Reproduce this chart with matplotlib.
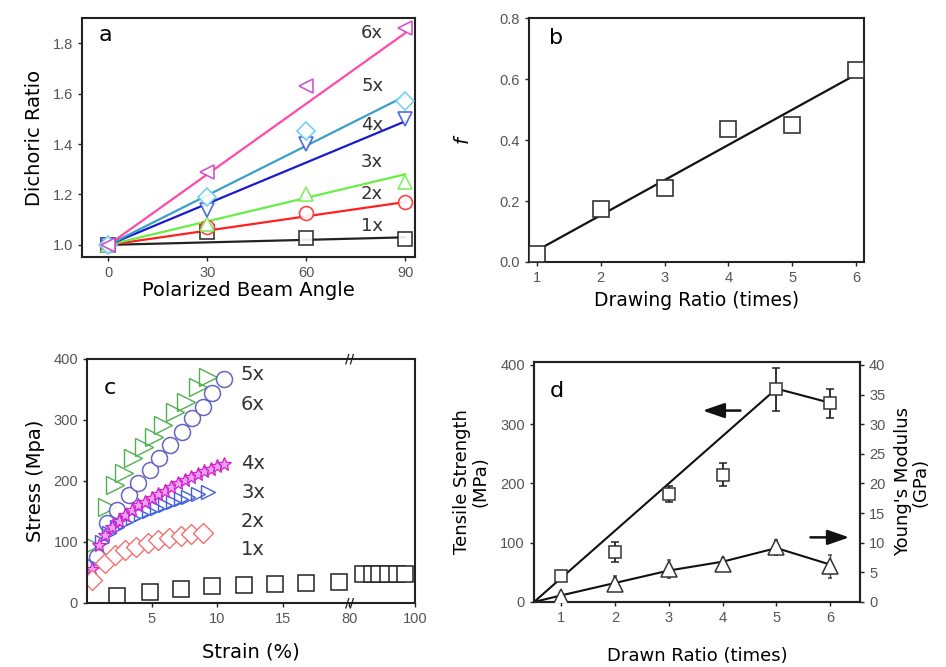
import numpy as np
import matplotlib

matplotlib.use("Agg")
import matplotlib.pyplot as plt
import matplotlib.transforms as mtransforms

# ---- panel a: dichoric ratio vs polarized beam angle ----
a_angles = [0, 30, 60, 90]
a_labels = ["1x", "2x", "3x", "4x", "5x", "6x"]
a_ratio = [
    [1.0, 1.05, 1.027, 1.025],
    [1.0, 1.07, 1.125, 1.17],
    [1.0, 1.083, 1.20, 1.25],
    [1.0, 1.14, 1.40, 1.50],
    [1.0, 1.19, 1.45, 1.57],
    [1.0, 1.29, 1.63, 1.86],
]
a_fit_end = [1.03, 1.17, 1.28, 1.49, 1.59, 1.84]
a_label_y = [1.075, 1.20, 1.33, 1.475, 1.63, 1.84]

# ---- panel b: orientation factor vs drawing ratio ----
b_ratio = [1, 2, 3, 4, 5, 6]
b_f = [0.027, 0.173, 0.243, 0.436, 0.449, 0.63]

# ---- panel c: stress-strain curves ----
c_1x_strain = [2.4, 4.85, 7.2, 9.6, 12.0, 14.4, 16.7, 19.2, 84.2, 86.8, 89.2, 91.9, 94.5, 96.9]
c_1x_stress = [11, 18, 23, 27, 29, 31, 33, 34, 47, 47, 47, 47, 47, 47]
c_2x_strain = [0.5, 1.5, 2.25, 3.0, 3.8, 4.7, 5.5, 6.3, 7.2, 8.0, 8.9]
c_2x_stress = [38, 65, 79, 87, 92, 98, 103, 106, 110, 113, 115]
c_3x_strain = [0.6, 1.2, 1.8, 2.4, 3.0, 3.6, 4.2, 4.8, 5.4, 6.0, 6.6, 7.2, 7.8, 8.5, 9.3]
c_3x_stress = [60, 100, 115, 125, 133, 140, 146, 151, 156, 161, 165, 170, 174, 178, 182]
c_4x_strain = [0.5, 1.0, 1.5, 2.0, 2.5, 3.0, 3.5, 4.0, 4.5, 5.0, 5.5, 6.0, 6.5, 7.0,
               7.5, 8.0, 8.5, 9.0, 9.5, 10.0, 10.5]
c_4x_stress = [55, 95, 112, 125, 135, 145, 152, 160, 166, 172, 178, 184, 190, 196,
               201, 206, 211, 216, 220, 224, 228]
c_5x_strain = [0.4, 1.6, 2.25, 2.9, 3.6, 4.4, 5.2, 5.9, 6.8, 7.6, 8.5, 9.3]
c_5x_stress = [95, 158, 193, 213, 237, 256, 272, 292, 313, 330, 354, 371]
c_6x_strain = [0.85, 1.6, 2.4, 3.25, 4.0, 4.85, 5.6, 6.4, 7.3, 8.1, 8.9, 9.6, 10.5]
c_6x_stress = [76, 131, 152, 177, 196, 218, 238, 259, 281, 303, 321, 344, 367]
c_label_y = [374, 326, 229, 181, 133, 87]
c_label_txt = ["5x", "6x", "4x", "3x", "2x", "1x"]

# ---- panel d: tensile strength and Young's modulus ----
d_ratio = [1, 2, 3, 4, 5, 6]
d_strength = [43, 84, 182, 215, 359, 335]
d_strength_err = [5, 17, 14, 19, 36, 24]
d_strength_line_x = [0.5, 5, 6]
d_strength_line_y = [0, 360, 336]
d_modulus = [0.9, 3.1, 5.6, 6.4, 9.2, 6.0]
d_modulus_err = [0.5, 1.2, 1.5, 1.0, 1.2, 2.0]
d_modulus_line_x = [0.5, 1, 2, 3, 4, 5, 6]
d_modulus_line_y = [0, 1.1, 3.2, 5.3, 6.8, 9.1, 6.3]

TICK_COLOR = "#555555"
LABEL_FONT = "DejaVu Sans"
TICK_FONT = "Liberation Sans"
ARROW = dict(arrowstyle="-|>,head_length=1.1,head_width=0.38", color="#111111",
             lw=1.8, mutation_scale=12, shrinkA=0, shrinkB=0)


def style_axes(ax):
    for spine in ax.spines.values():
        spine.set_linewidth(1.5)
        spine.set_color("#222222")
    ax.tick_params(direction="out", length=3, width=1, colors="#222222",
                   labelcolor=TICK_COLOR, labelsize=10.5)
    for lab in ax.get_xticklabels() + ax.get_yticklabels():
        lab.set_family(TICK_FONT)


def panel_a(ax):
    line_colors = ["#222222", "#ff2020", "#66ee44", "#1a1acc", "#3aa0c8", "#ff4aa8"]
    mark_colors = ["#222222", "#ff3030", "#77ee55", "#3a5adf", "#66ccee", "#cc44cc"]
    markers = ["s", "o", "^", "v", "D", "<"]
    sizes = [10, 10, 10, 10, 9, 10]
    for i in range(len(a_labels)):
        ax.plot([a_angles[0], a_angles[-1]], [a_ratio[i][0], a_fit_end[i]],
                color=line_colors[i], lw=1.6, zorder=2)
        ax.plot(a_angles, a_ratio[i], ls="none", marker=markers[i], ms=sizes[i],
                mfc="white", mec=mark_colors[i], mew=1.2, zorder=3, alpha=0.9)
        ax.text(80, a_label_y[i], a_labels[i], fontsize=13, color="#333333",
                family=LABEL_FONT, ha="center", va="center")
    ax.set_xlim(-8, 93)
    ax.set_ylim(0.952, 1.9)
    ax.set_xticks([0, 30, 60, 90])
    ax.set_yticks([1.0, 1.2, 1.4, 1.6, 1.8])
    ax.set_yticklabels(["1.0", "1.2", "1.4", "1.6", "1.8"])
    ax.set_xlabel("Polarized Beam Angle", fontsize=14, family=LABEL_FONT, labelpad=1)
    ax.set_ylabel("Dichoric Ratio", fontsize=14, family=LABEL_FONT, labelpad=6)
    ax.text(0.07, 0.93, "a", transform=ax.transAxes, fontsize=16,
            family=LABEL_FONT, va="center", ha="center")
    style_axes(ax)


def panel_b(ax):
    slope, intercept = np.polyfit(b_ratio, b_f, 1)
    fit_x = np.array([b_ratio[0], b_ratio[-1]])
    ax.plot(fit_x, slope * fit_x + intercept, color="#111111", lw=1.6, zorder=2)
    ax.plot(b_ratio, b_f, ls="none", marker="s", ms=11, mfc="white", mec="#333333",
            mew=1.2, zorder=3)
    ax.set_xlim(0.875, 6.125)
    ax.set_ylim(0, 0.8)
    ax.set_xticks(b_ratio)
    ax.set_yticks([0.0, 0.2, 0.4, 0.6, 0.8])
    ax.set_yticklabels(["0.0", "0.2", "0.4", "0.6", "0.8"])
    ax.set_xlabel("Drawing Ratio (times)", fontsize=13.5, family=LABEL_FONT, labelpad=4)
    ax.set_ylabel("f", fontsize=14, style="italic", family=LABEL_FONT, labelpad=20)
    ax.text(0.08, 0.92, "b", transform=ax.transAxes, fontsize=16,
            family=LABEL_FONT, va="center", ha="center")
    style_axes(ax)


def brk_forward(x):
    x = np.asarray(x, dtype=float)
    return np.where(x <= 20, x, np.where(x >= 80, 20 + (x - 80) / 4, 20))


def brk_inverse(p):
    p = np.asarray(p, dtype=float)
    return np.where(p <= 20, p, 80 + (p - 20) * 4)


def panel_c(ax):
    ax.set_xscale("function", functions=(brk_forward, brk_inverse))
    ax.plot(c_5x_strain, c_5x_stress, ls="none", marker=">", ms=13, mfc="none",
            mec="#50b050", mew=1.0)
    ax.plot(c_6x_strain, c_6x_stress, ls="none", marker="o", ms=11.5, mfc="white",
            mec="#5555bb", mew=1.1, alpha=0.9)
    ax.plot(c_3x_strain, c_3x_stress, ls="none", marker=">", ms=10, mfc="none",
            mec="#4060e0", mew=1.0)
    ax.plot(c_4x_strain, c_4x_stress, ls="none", marker="*", ms=10, mfc="#f0a0f0",
            mec="#d020d0", mew=0.9)
    ax.plot(c_2x_strain, c_2x_stress, ls="none", marker="D", ms=10, mfc="white",
            mec="#f07070", mew=1.0)
    ax.plot(c_1x_strain, c_1x_stress, ls="none", marker="s", ms=12, mfc="white",
            mec="#222222", mew=1.1)
    for txt, y in zip(c_label_txt, c_label_y):
        ax.text(12.7, y, txt, fontsize=14, family=LABEL_FONT, color="#333333",
                ha="center", va="center")
    ax.set_xlim(0.1, 100)
    ax.set_ylim(0, 400)
    ax.set_xticks([5, 10, 15, 80, 100])
    ax.set_xticklabels(["5", "10", "15", "80", "100"])
    ax.minorticks_off()
    ax.set_yticks([0, 100, 200, 300, 400])
    ax.set_xlabel("Strain (%)", fontsize=14, family=LABEL_FONT, labelpad=12)
    ax.set_ylabel("Stress (Mpa)", fontsize=14, family=LABEL_FONT, labelpad=6)
    ax.text(0.07, 0.88, "c", transform=ax.transAxes, fontsize=16,
            family=LABEL_FONT, va="center", ha="center")
    trans = mtransforms.blended_transform_factory(ax.transData, ax.transAxes)
    for yy in (0, 1):
        ax.text(20, yy, "//", transform=trans, fontsize=9, fontweight="bold",
                ha="center", va="center", color="#222222", clip_on=False, zorder=5)
    style_axes(ax)


def panel_d(ax):
    ax.plot(d_strength_line_x, d_strength_line_y, color="#111111", lw=1.5, zorder=2)
    ax.errorbar(d_ratio, d_strength, yerr=d_strength_err, fmt="s", ms=9,
                mfc="white", mec="#333333", mew=1.1, ecolor="#222222",
                elinewidth=1.3, capsize=3, capthick=1.3, zorder=3)
    ax.set_xlim(0.5, 6.55)
    ax.set_ylim(0, 405)
    ax.set_xticks(d_ratio)
    ax.set_yticks([0, 100, 200, 300, 400])
    ax.set_xlabel("Drawn Ratio (times)", fontsize=13, family=LABEL_FONT, labelpad=16)
    ax.set_ylabel("Tensile Strength\n(MPa)", fontsize=13, family=LABEL_FONT,
                  labelpad=8, linespacing=1.0)
    ax.text(0.07, 0.88, "d", transform=ax.transAxes, fontsize=16,
            family=LABEL_FONT, va="center", ha="center")
    ax.annotate("", xy=(3.63, 323), xytext=(4.33, 323), arrowprops=ARROW)
    style_axes(ax)

    ax2 = ax.twinx()
    ax2.plot(d_modulus_line_x, d_modulus_line_y, color="#111111", lw=1.5, zorder=2)
    ax2.errorbar(d_ratio, d_modulus, yerr=d_modulus_err, fmt="^", ms=11,
                 mfc="white", mec="#333333", mew=1.1, ecolor="#444444",
                 elinewidth=1.0, capsize=1.5, zorder=3)
    ax2.set_ylim(0, 40.5)
    ax2.set_yticks([0, 5, 10, 15, 20, 25, 30, 35, 40])
    ax2.set_ylabel("Young's Modulus\n(GPa)", fontsize=13, family=LABEL_FONT,
                   labelpad=6, linespacing=1.0)
    ax2.annotate("", xy=(6.35, 10.9), xytext=(5.63, 10.9), arrowprops=ARROW)
    style_axes(ax2)


def main() -> None:
    fig = plt.figure(figsize=(9.46, 6.67), dpi=100)
    ax_a = fig.add_axes([0.0867, 0.6147, 0.352, 0.3583])
    ax_b = fig.add_axes([0.5592, 0.6072, 0.3541, 0.3658])
    ax_c = fig.add_axes([0.0920, 0.0960, 0.3467, 0.3658])
    ax_d = fig.add_axes([0.5645, 0.0975, 0.3446, 0.3598])
    panel_a(ax_a)
    panel_b(ax_b)
    panel_c(ax_c)
    panel_d(ax_d)
    fig.savefig("out.png", dpi=100)
    plt.close(fig)


if __name__ == "__main__":
    main()
